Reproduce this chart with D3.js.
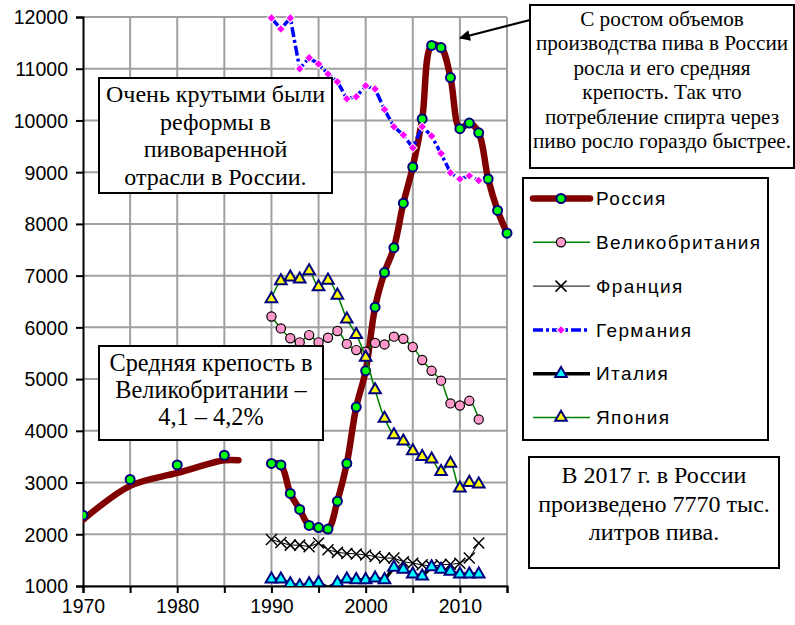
<!DOCTYPE html>
<html>
<head>
<meta charset="utf-8">
<script src="https://cdn.jsdelivr.net/npm/d3@7"></script>
<style>
body { margin: 0; background: #fff; }
svg { display: block; }
.axis text { font-family: "Liberation Sans", Arial, sans-serif; font-size: 19.5px; fill: #000; }
.legend text { font-family: "Liberation Sans", Arial, sans-serif; font-size: 19px; letter-spacing: 1.4px; }
.note text { font-family: "Liberation Serif", "Times New Roman", serif; fill: #000; }
</style>
</head>
<body>
<svg width="795" height="625"></svg>
<script>
// Data
var yearsA = d3.range(1990, 2013);   // 1990..2012
var yearsB = d3.range(1990, 2016);   // 1990..2015

var russiaYears  = [1970, 1975, 1980, 1985].concat(yearsB);
var russiaValues = [2370, 3060, 3340, 3530,
    3370, 3340, 2790, 2480, 2170, 2130, 2100, 2640, 3370, 4460, 5160, 6390, 7060,
    7540, 8400, 9100, 10030, 11450, 11410, 10830, 9840, 9950, 9760, 8870, 8260, 7820];
// smoothed trend drawn under the early markers
var russiaTrendYears  = [1970, 1975, 1980, 1985, 1986.5];
var russiaTrendValues = [2280, 2935, 3185, 3430, 3430];

var ukValues      = [6210, 5980, 5790, 5710, 5850, 5710, 5800, 5930, 5680, 5560, 5530, 5700,
                     5670, 5820, 5780, 5620, 5370, 5160, 4970, 4530, 4490, 4580, 4220];
var franceValues  = [1900, 1840, 1790, 1790, 1760, 1830, 1700, 1650, 1630, 1620, 1600, 1570,
                     1540, 1540, 1470, 1440, 1410, 1380, 1410, 1420, 1440, 1540, 1830];
var germanyValues = [11980, 11770, 11980, 11000, 11210, 11090, 10900, 10750, 10420, 10460, 10670, 10610,
                     10210, 9880, 9720, 9470, 9880, 9700, 9360, 8990, 8870, 8930, 8840];
var italyValues   = [1130, 1130, 1040, 1000, 1040, 1060, 970, 1060, 1130, 1120, 1120, 1150,
                     1120, 1360, 1320, 1230, 1190, 1370, 1320, 1280, 1230, 1230, 1230];
var japanValues   = [6550, 6900, 6970, 6930, 7090, 6780, 6910, 6620, 6160, 5860, 5420, 4790,
                     4240, 3920, 3800, 3610, 3500, 3450, 3210, 3370, 2890, 3000, 2970];

var seriesNames = ["Россия", "Великобритания", "Франция", "Германия", "Италия", "Япония"];
var xTickLabels = [1970, 1980, 1990, 2000, 2010];
var yTickValues = d3.range(1000, 12001, 1000);

var noteReform  = ["Очень крутыми были", "реформы в", "пивоваренной", "отрасли в России."];
var noteGrowth  = ["С ростом объемов", "производства пива в России", "росла и его средняя",
                   "крепость. Так что", "потребление спирта через", "пиво росло гораздо быстрее."];
var noteUK      = ["Средняя крепость в", "Великобритании –", "4,1 – 4,2%"];
var note2017    = ["В 2017 г. в России", "произведено 7770 тыс.", "литров пива."];

// Setup
var svg = d3.select("svg"),
    margin = {top: 17, left: 83},
    width = 424,
    height = 569;

var x = d3.scaleLinear().domain([1970, 2015]).range([0, width]),
    y = d3.scaleLinear().domain([1000, 12000]).range([height, 0]);

var g = svg.append("g")
    .attr("transform", "translate(" + margin.left + "," + margin.top + ")");

svg.append("defs").append("clipPath").attr("id", "plotclip")
    .append("rect").attr("x", 0).attr("y", -10).attr("width", width + 10).attr("height", height + 10);

// grid
g.append("g").selectAll("line")
    .data(yTickValues).enter().append("line")
    .attr("x1", 0).attr("x2", width)
    .attr("y1", function(d) { return y(d); }).attr("y2", function(d) { return y(d); })
    .attr("stroke", "#a0a0a0").attr("stroke-width", 2);
g.append("g").selectAll("line")
    .data(d3.range(1975, 2016, 5)).enter().append("line")
    .attr("y1", 0).attr("y2", height)
    .attr("x1", function(d) { return x(d); }).attr("x2", function(d) { return x(d); })
    .attr("stroke", "#a0a0a0").attr("stroke-width", 2);

// axes
var xAxis = g.append("g")
    .attr("class", "axis")
    .attr("transform", "translate(0," + height + ")")
    .call(d3.axisBottom(x).tickValues(d3.range(1970, 2016, 5)).tickSize(7).tickPadding(3)
        .tickFormat(function(d) { return xTickLabels.indexOf(d) >= 0 ? d : ""; }));
var yAxis = g.append("g")
    .attr("class", "axis")
    .call(d3.axisLeft(y).tickValues(yTickValues).tickSize(7).tickPadding(8).tickFormat(d3.format("d")));
[xAxis, yAxis].forEach(function(a) {
    a.select(".domain").attr("stroke", "#000").attr("stroke-width", 2);
    a.selectAll(".tick line").attr("stroke", "#000").attr("stroke-width", 2);
});
xAxis.selectAll(".tick text").attr("dy", "0.85em");
yAxis.selectAll(".tick text").attr("dy", "0.35em");

// helpers
function pairs(xs, vs) { return xs.map(function(d, i) { return [d, vs[i]]; }); }
var straight = d3.line().x(function(d) { return x(d[0]); }).y(function(d) { return y(d[1]); });
var smooth = d3.line().curve(d3.curveCatmullRom.alpha(0.5))
    .x(function(d) { return x(d[0]); }).y(function(d) { return y(d[1]); });

var plot = g.append("g").attr("clip-path", "url(#plotclip)");

var tri = d3.symbol().type(d3.symbolTriangle).size(58);
var dia = d3.symbol().type(d3.symbolSquare).size(40);
var xMark = "M-5.5,-5.5L5.5,5.5M-5.5,5.5L5.5,-5.5";

function marker(sel, kind) {
    if (kind == "circleRU") {
        sel.append("circle").attr("r", 4.5).attr("fill", "#00ff00").attr("stroke", "#000080").attr("stroke-width", 2);
    } else if (kind == "circleUK") {
        sel.append("circle").attr("r", 4.6).attr("fill", "#ff99cc").attr("stroke", "#000").attr("stroke-width", 1.2);
    } else if (kind == "x") {
        sel.append("path").attr("d", xMark).attr("fill", "none").attr("stroke", "#000").attr("stroke-width", 1.5);
    } else if (kind == "diamond") {
        sel.append("path").attr("d", dia).attr("transform", "rotate(45)")
            .attr("fill", "#ff00ff").attr("stroke", "#fff").attr("stroke-width", 1);
    } else if (kind == "triCyan") {
        sel.append("path").attr("d", tri).attr("fill", "#00ffff").attr("stroke", "#000080").attr("stroke-width", 2);
    } else if (kind == "triYellow") {
        sel.append("path").attr("d", tri).attr("fill", "#ffff00").attr("stroke", "#000080").attr("stroke-width", 2);
    }
}

var series = [
    {name: seriesNames[0], data: pairs(russiaYears, russiaValues), color: "#800000", width: 6.5, dash: null, kind: "circleRU", curve: smooth},
    {name: seriesNames[1], data: pairs(yearsA, ukValues), color: "#008000", width: 1.5, dash: null, kind: "circleUK", curve: smooth},
    {name: seriesNames[2], data: pairs(yearsA, franceValues), color: "#000", width: 1, dash: null, kind: "x", curve: straight},
    {name: seriesNames[3], data: pairs(yearsA, germanyValues), color: "#0000ff", width: 3.5, dash: "10,3,3,3", kind: "diamond", curve: straight},
    {name: seriesNames[4], data: pairs(yearsA, italyValues), color: "#000", width: 3.5, dash: null, kind: "triCyan", curve: straight},
    {name: seriesNames[5], data: pairs(yearsA, japanValues), color: "#008000", width: 1.5, dash: null, kind: "triYellow", curve: smooth}
];

series.forEach(function(s, i) {
    var lineData = s.data.filter(function(d) { return d[0] >= 1990; });
    var sg = plot.append("g");
    if (i == 0) {
        sg.append("path")
            .attr("d", smooth(pairs(russiaTrendYears, russiaTrendValues)))
            .attr("fill", "none").attr("stroke", s.color).attr("stroke-width", s.width)
            .attr("stroke-linecap", "round").attr("stroke-linejoin", "round");
    }
    sg.append("path")
        .attr("d", s.curve(lineData))
        .attr("fill", "none").attr("stroke", s.color).attr("stroke-width", s.width)
        .attr("stroke-dasharray", s.dash)
        .attr("stroke-linecap", i == 0 ? "round" : "butt").attr("stroke-linejoin", "round");
    sg.selectAll(".m")
        .data(s.data.filter(function(d) { return d[1] >= 1000; }))
        .enter().append("g")
        .attr("transform", function(d) { return "translate(" + x(d[0]) + "," + y(d[1]) + ")"; })
        .each(function() { marker(d3.select(this), s.kind); });
});

// legend
var legend = svg.append("g").attr("class", "legend");
legend.append("rect").attr("x", 523).attr("y", 178).attr("width", 245).attr("height", 262)
    .attr("fill", "#fff").attr("stroke", "#000").attr("stroke-width", 2);
series.forEach(function(s, i) {
    var ly = 198.5 + i * 43.8;
    var row = legend.append("g");
    row.append("line").attr("x1", 533).attr("x2", 590).attr("y1", ly).attr("y2", ly)
        .attr("stroke", s.color).attr("stroke-width", s.width).attr("stroke-dasharray", s.dash)
        .attr("stroke-linecap", i == 0 ? "round" : "butt");
    var mg = row.append("g").attr("transform", "translate(561," + ly + ")");
    marker(mg, s.kind);
    row.append("text").attr("x", 596).attr("y", ly).attr("dy", "0.35em").text(s.name);
});

// text boxes
function note(lines, bx, by, bw, bh, size, firstBase, step) {
    var ng = svg.append("g").attr("class", "note");
    ng.append("rect").attr("x", bx).attr("y", by).attr("width", bw).attr("height", bh)
        .attr("fill", "#fff").attr("stroke", "#000").attr("stroke-width", 2);
    ng.selectAll("text").data(lines).enter().append("text")
        .attr("x", bx + bw / 2)
        .attr("y", function(d, i) { return firstBase + i * step; })
        .attr("text-anchor", "middle")
        .style("font-size", size + "px")
        .text(function(d) { return d; });
}
note(noteReform, 99, 78, 233, 115, 24, 102, 27.6);
note(noteGrowth, 530, 5, 264, 163, 21.2, 26, 24.4);
note(noteUK, 99, 346, 224, 94, 24.3, 371, 27);
note(note2017, 529, 457, 250, 111, 24, 483, 28.5);

// arrow to the Russian peak
svg.append("defs").append("marker")
    .attr("id", "arrowhead").attr("viewBox", "0 0 10 10").attr("refX", 9).attr("refY", 5)
    .attr("markerWidth", 14).attr("markerHeight", 11).attr("markerUnits", "userSpaceOnUse")
    .attr("orient", "auto")
    .append("path").attr("d", "M0,0L10,5L0,10z").attr("fill", "#000");
svg.append("line")
    .attr("x1", 530).attr("y1", 20).attr("x2", 460).attr("y2", 38)
    .attr("stroke", "#000").attr("stroke-width", 2)
    .attr("marker-end", "url(#arrowhead)");
</script>
</body>
</html>
